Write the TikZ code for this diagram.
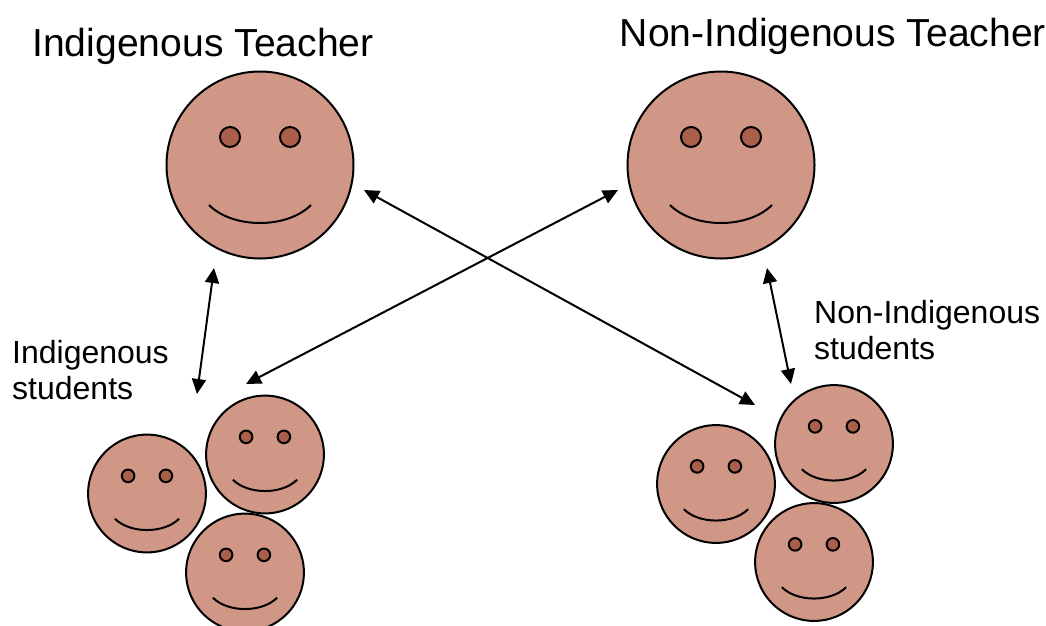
\documentclass[tikz,border=0pt]{standalone}
\usepackage{fontspec}
\setmainfont{Liberation Sans}
\usetikzlibrary{arrows.meta}
\definecolor{Face_skin}{RGB}{208, 150, 134}
\definecolor{Eye_skin}{RGB}{170, 95, 75}
\tikzset{
    link/.style={line width=2pt, {Stealth[inset=0pt,length=15pt,width=14pt]}-{Stealth[inset=0pt,length=15pt,width=14pt]}},
    title/.style={font=\fontsize{39.1}{44}\selectfont, inner sep=0pt},
    group label/.style={font=\fontsize{32}{36}\selectfont, inner sep=0pt, anchor=west, align=left},
    smiley/.pic={
        \draw[line width=2pt, fill=Face_skin] (0,0) circle (93.5);
        \draw[line width=2pt, fill=Eye_skin] (-30,-28) circle (10);
        \draw[line width=2pt, fill=Eye_skin] (30,-28) circle (10);
        \draw[line width=2pt] (-51,40) .. controls (-27,64) and (27,64) .. (51,40);
    }
}

\begin{document}
\begin{tikzpicture}[x=1pt,y=-1pt]
    \useasboundingbox (0,0) rectangle (1046,625);

    %% Titles
    \node[title] (indigenous_title) at (203,46) {Indigenous Teacher};
    \node[title] (other_title) at (833,36) {Non-Indigenous Teacher};
    \node[group label] (indigenous_label) at (12,370) {Indigenous\\students};
    \node[group label] (other_label) at (814,330) {Non-Indigenous\\students};

    %% Teachers
    \pic at (260,165) {smiley};
    \pic at (721,165) {smiley};

    %% Students
    \foreach \x/\y in {147/493.5, 265/454.5, 245/572.5, 716/484, 834/444, 814/562}
        \pic[scale=0.63] at (\x,\y) {smiley};

    %% Arrow ends
    \coordinate (left_up) at (214,268);
    \coordinate (left_down) at (197,394);
    \coordinate (right_up) at (767,268);
    \coordinate (right_down) at (791,384);
    \coordinate (cross_a_start) at (246,384);
    \coordinate (cross_a_end) at (618,190);
    \coordinate (cross_b_start) at (364,190);
    \coordinate (cross_b_end) at (755,405);

    %% Arrows
    \draw[link] (left_up) -- (left_down);
    \draw[link] (right_up) -- (right_down);
    \draw[link] (cross_a_start) -- (cross_a_end);
    \draw[link] (cross_b_start) -- (cross_b_end);
\end{tikzpicture}
\end{document}
